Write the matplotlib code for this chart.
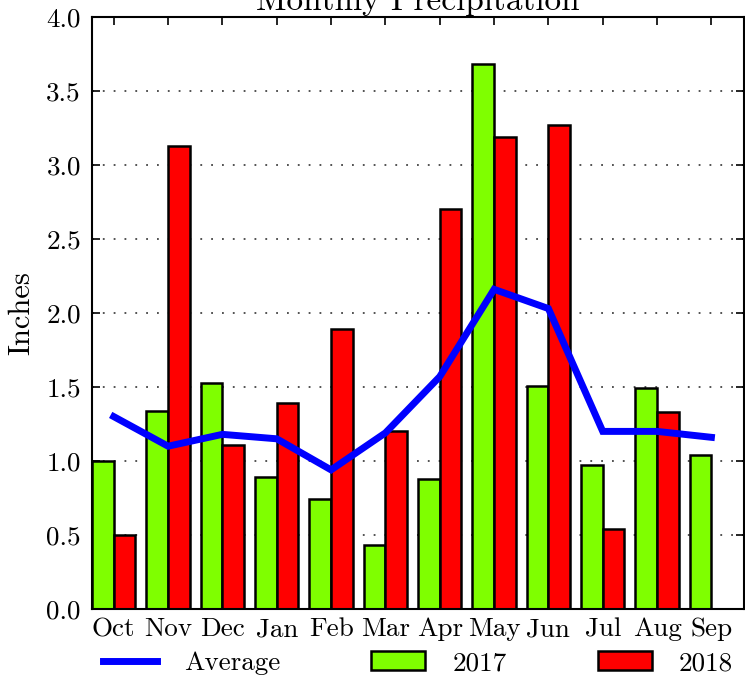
import matplotlib
matplotlib.use("Agg")
import matplotlib.pyplot as plt
import numpy as np
from matplotlib.lines import Line2D
from matplotlib.patches import Patch

months = ["Oct", "Nov", "Dec", "Jan", "Feb", "Mar", "Apr", "May", "Jun", "Jul", "Aug", "Sep"]
precip_2017 = [1.00, 1.34, 1.53, 0.89, 0.74, 0.43, 0.88, 3.68, 1.51, 0.97, 1.49, 1.04]
precip_2018 = [0.50, 3.13, 1.11, 1.39, 1.89, 1.20, 2.70, 3.19, 3.27, 0.54, 1.33, 0.0]
average = [1.30, 1.10, 1.18, 1.15, 0.94, 1.19, 1.57, 2.16, 2.03, 1.20, 1.20, 1.16]
yticks = [0.0, 0.5, 1.0, 1.5, 2.0, 2.5, 3.0, 3.5, 4.0]

plt.rcParams['font.family'] = ['cmr10', 'DejaVu Serif']
plt.rcParams['mathtext.fontset'] = 'cm'
plt.rcParams['axes.formatter.use_mathtext'] = True

W, H = 745, 681
fig = plt.figure(figsize=(W / 100, H / 100), dpi=100)
ax = fig.add_axes([92 / W, 72 / H, 652 / W, 592 / H])

x = np.arange(len(months))
w = 0.4
ax.bar(x, precip_2017, width=-w, align='edge', color='#7fff00', edgecolor='black', linewidth=1.8, zorder=2)
mask = np.array(precip_2018) > 0
ax.bar(x[mask], np.array(precip_2018)[mask], width=w, align='edge', color='#ff0000', edgecolor='black', linewidth=1.8, zorder=2)
ax.plot(x, average, color='#0000ff', linewidth=5, zorder=3, solid_joinstyle='miter')

ax.set_xlim(-0.4, 11.6)
ax.set_ylim(0, 4.0)
ax.set_yticks(yticks)
ax.set_yticklabels([f"{v:.1f}" for v in yticks])
ax.set_xticks(x)
ax.set_xticklabels(months)
ax.tick_params(axis='both', direction='in', top=True, right=True, length=6, width=1.2, labelsize=19.5)
ax.tick_params(axis='x', pad=6)
ax.tick_params(axis='y', pad=8)
ax.yaxis.grid(True, linestyle=(0, (1, 5)), color='#444444', linewidth=1.3, zorder=0)
ax.set_axisbelow(True)
for s in ax.spines.values():
    s.set_linewidth(1.5)

ax.set_ylabel("Inches", fontsize=22, labelpad=8)
ax.set_title("Monthly Precipitation", fontsize=24, pad=5)

handles = [Line2D([0], [0], color='#0000ff', linewidth=5),
           Patch(facecolor='#7fff00', edgecolor='black', linewidth=1.8),
           Patch(facecolor='#ff0000', edgecolor='black', linewidth=1.8)]
labels = ["Average", "2017", "2018"]
ax.legend(handles, labels, ncol=3, mode='expand', frameon=False, fontsize=19.5,
          bbox_to_anchor=(0.0, -0.13, 1.0, 0.08), loc='lower left',
          handlelength=2.0, handletextpad=1.0, borderaxespad=0)

fig.savefig("out.png", dpi=100)
